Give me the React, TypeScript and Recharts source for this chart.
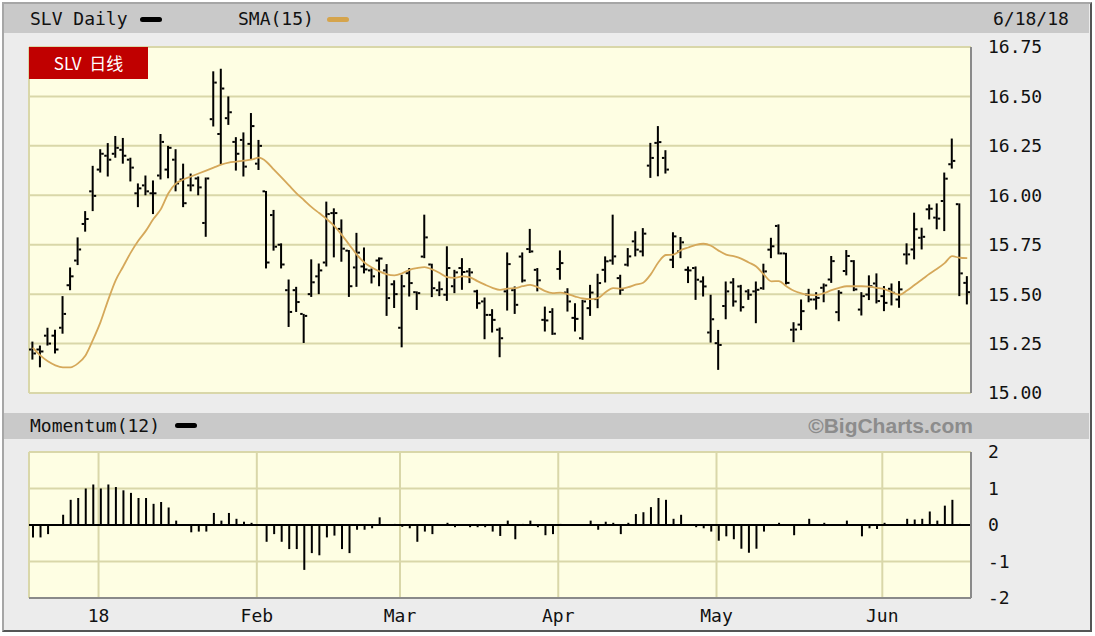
import { ComposedChart, Bar, Line, XAxis, YAxis, CartesianGrid, ReferenceLine } from "recharts";

// SLV daily, 12/18/17 .. 6/18/18 (125 sessions)
const opens = [15.22,15.22,15.29,15.29,15.33,15.545,15.67,15.855,16.02,16.13,16.2,16.21,16.23,16.18,16.01,16.05,16.01,16.1,16.13,16.18,16.08,16.05,16.085,15.86,16.385,16.31,16.39,16.27,16.28,16.26,16.16,16.02,15.9,15.75,15.52,15.52,15.4,15.5,15.59,15.66,15.91,15.83,15.72,15.635,15.64,15.62,15.67,15.62,15.55,15.33,15.606,15.51,15.69,15.65,15.52,15.497,15.54,15.632,15.615,15.514,15.463,15.395,15.32,15.514,15.52,15.69,15.728,15.623,15.37,15.41,15.627,15.508,15.38,15.277,15.429,15.475,15.623,15.67,15.581,15.649,15.767,15.716,16.15,16.265,16.189,15.674,15.716,15.623,15.632,15.564,15.306,15.252,15.44,15.559,15.539,15.514,15.514,15.53,15.725,15.845,15.706,15.32,15.346,15.498,15.473,15.532,15.574,15.409,15.617,15.667,15.422,15.498,15.554,15.49,15.527,15.473,15.701,15.726,15.785,15.929,15.887,15.971,16.157,15.955,15.557];
const highs = [15.26,15.24,15.33,15.32,15.49,15.635,15.787,15.92,16.149,16.233,16.264,16.3,16.29,16.19,16.06,16.1,16.075,16.31,16.25,16.233,16.16,16.11,16.095,16.09,16.627,16.64,16.5,16.294,16.318,16.416,16.28,16.022,15.926,15.757,15.574,15.537,15.4,15.676,15.655,15.968,15.934,15.878,15.723,15.81,15.736,15.63,15.686,15.652,15.57,15.598,15.632,15.514,15.902,15.654,15.564,15.742,15.623,15.682,15.632,15.522,15.483,15.424,15.331,15.711,15.539,15.711,15.83,15.632,15.437,15.429,15.721,15.53,15.454,15.471,15.547,15.603,15.691,15.902,15.598,15.733,15.818,15.834,16.265,16.35,16.228,15.813,15.789,15.64,15.64,15.59,15.497,15.319,15.564,15.581,15.547,15.525,15.564,15.654,15.785,15.853,15.709,15.358,15.473,15.527,15.51,15.554,15.693,15.52,15.723,15.672,15.51,15.595,15.605,15.541,15.554,15.566,15.757,15.912,15.836,15.954,15.959,16.115,16.287,15.959,15.591];
const lows = [15.169,15.13,15.24,15.2,15.3,15.52,15.647,15.816,15.92,16.115,16.095,16.19,16.16,16.07,15.94,16.0,15.905,16.08,16.086,16.02,15.94,16.02,16.0,15.79,16.348,16.154,16.356,16.125,16.095,16.18,16.128,15.63,15.72,15.63,15.334,15.41,15.253,15.486,15.5,15.64,15.686,15.664,15.486,15.537,15.605,15.554,15.54,15.39,15.43,15.231,15.488,15.42,15.682,15.485,15.49,15.466,15.505,15.522,15.556,15.426,15.272,15.306,15.181,15.417,15.4,15.559,15.708,15.514,15.311,15.294,15.573,15.412,15.311,15.269,15.39,15.429,15.559,15.649,15.497,15.64,15.691,15.691,16.088,16.096,16.11,15.632,15.682,15.556,15.471,15.488,15.255,15.117,15.373,15.437,15.412,15.471,15.353,15.522,15.682,15.701,15.549,15.257,15.318,15.459,15.422,15.459,15.557,15.363,15.595,15.515,15.392,15.47,15.453,15.414,15.443,15.431,15.65,15.676,15.726,15.878,15.828,15.819,16.135,15.49,15.448];
const closes = [15.2,15.21,15.25,15.22,15.4,15.59,15.726,15.88,15.997,16.21,16.18,16.24,16.2,16.14,16.035,16.02,16.01,16.27,16.24,16.06,15.96,16.05,16.04,16.085,16.57,16.54,16.42,16.21,16.145,16.35,16.25,15.66,15.74,15.65,15.41,15.46,15.39,15.56,15.62,15.905,15.91,15.73,15.54,15.71,15.625,15.59,15.68,15.48,15.5,15.54,15.556,15.505,15.787,15.53,15.525,15.632,15.61,15.612,15.61,15.454,15.395,15.37,15.277,15.652,15.446,15.569,15.716,15.57,15.367,15.3,15.657,15.463,15.375,15.463,15.508,15.556,15.666,15.691,15.522,15.691,15.725,15.806,16.189,16.269,16.13,15.792,15.762,15.62,15.573,15.539,15.373,15.243,15.514,15.463,15.434,15.497,15.522,15.615,15.742,15.706,15.557,15.321,15.414,15.473,15.481,15.544,15.667,15.507,15.693,15.524,15.49,15.54,15.465,15.456,15.507,15.524,15.701,15.828,15.79,15.932,15.882,16.084,16.174,15.605,15.51];
const sma15 = [15.23,15.19,15.16,15.14,15.13,15.13,15.15,15.19,15.27,15.36,15.47,15.57,15.64,15.71,15.77,15.82,15.88,15.93,16.01,16.06,16.08,16.095,16.11,16.125,16.14,16.155,16.165,16.17,16.175,16.18,16.19,16.17,16.13,16.09,16.05,16.01,15.975,15.94,15.91,15.88,15.845,15.8,15.75,15.7,15.66,15.635,15.615,15.6,15.595,15.605,15.623,15.632,15.637,15.625,15.607,15.586,15.582,15.59,15.585,15.566,15.548,15.532,15.522,15.528,15.53,15.54,15.547,15.535,15.515,15.505,15.508,15.5,15.488,15.478,15.475,15.48,15.51,15.53,15.528,15.535,15.548,15.558,15.6,15.66,15.698,15.7,15.722,15.736,15.749,15.755,15.745,15.72,15.7,15.692,15.68,15.66,15.64,15.6,15.565,15.566,15.54,15.517,15.504,15.496,15.495,15.505,15.52,15.532,15.54,15.54,15.54,15.538,15.532,15.525,15.51,15.497,15.518,15.546,15.574,15.603,15.628,15.657,15.692,15.684,15.682];
const momentum12 = [-0.34,-0.34,-0.25,0.02,0.28,0.69,0.74,1.0,1.11,1.0,1.11,1.04,0.95,0.88,0.74,0.74,0.58,0.63,0.48,0.12,-0.02,-0.2,-0.18,-0.18,0.33,0.12,0.33,0.17,0.09,0.06,0.01,-0.46,-0.25,-0.46,-0.66,-0.66,-1.23,-0.77,-0.83,-0.34,-0.29,-0.66,-0.77,-0.13,-0.13,-0.09,0.21,0.02,0.03,-0.05,-0.09,-0.46,-0.18,-0.25,-0.02,0.06,-0.06,0.02,-0.06,-0.06,-0.06,-0.18,-0.3,0.12,-0.39,0.03,0.12,-0.06,-0.28,-0.25,0.03,0.01,-0.02,0.02,0.12,-0.13,0.09,0.06,-0.25,0.06,0.3,0.35,0.49,0.74,0.69,0.17,0.28,0.02,-0.06,-0.09,-0.18,-0.43,-0.31,-0.39,-0.65,-0.76,-0.65,-0.18,0.02,0.06,-0.01,-0.28,0.02,0.17,-0.01,0.06,0.01,-0.01,0.12,0.01,-0.31,-0.09,-0.11,0.06,0.01,0.02,0.17,0.15,0.17,0.37,0.12,0.53,0.69,0.03,0.02];

// first session of each month (bar index) and its label
const monthStarts = [9, 30, 49, 70, 91, 113];
const monthLabels = ["18", "Feb", "Mar", "Apr", "May", "Jun"];
const priceTicks = [15, 15.25, 15.5, 15.75, 16, 16.25, 16.5, 16.75];
const momTicks = [-2, -1, 0, 1, 2];

const rows = opens.map((o, i) => ({
  i, open: o, high: highs[i], low: lows[i], close: closes[i],
  hl: [lows[i], highs[i]], sma: sma15[i], mom: momentum12[i],
}));

const gridX = monthStarts.map((m) => m - 0.27);
const mono = "'DejaVu Sans Mono', monospace";
const tickStyle = { fill: "#111", fontFamily: mono, fontSize: 18 };
const GRID = "#d9d7a9";
const PLOT = "#fefee3";

function OhlcBar(props: any) {
  const { x, y, width, height, payload } = props;
  if (x == null || y == null || !payload) return null;
  const top = Math.min(y, y + height);
  const h = Math.abs(height);
  const span = payload.high - payload.low || 1;
  const yo = top + ((payload.high - payload.open) / span) * h;
  const yc = top + ((payload.high - payload.close) / span) * h;
  const cx = x + width / 2;
  return (
    <g fill="#000">
      <rect x={cx - 1} y={top} width={2} height={Math.max(h, 2)} />
      <rect x={cx - 3.5} y={yo - 1} width={2.5} height={2} />
      <rect x={cx + 1} y={yc - 1} width={2.5} height={2} />
    </g>
  );
}

const swatch = (left: number, top: number, color: string) => (
  <div style={{ position: "absolute", left, top, width: 22, height: 5, borderRadius: 3, background: color }} />
);

const label = (left: number, top: number, text: string, extra: any = {}) => (
  <div style={{ position: "absolute", left, top, fontFamily: mono, fontSize: 18, lineHeight: "20px", color: "#111", whiteSpace: "nowrap", ...extra }}>{text}</div>
);

export default function App() {
  return (
    <div style={{ position: "absolute", left: 0, top: 0, width: 1095, height: 636, background: "#fff", overflow: "hidden" }}>
      <div style={{ position: "absolute", left: 2, top: 2, width: 1090, height: 630, boxSizing: "border-box", background: "#ececec",
        borderTop: "2px solid #a6a6a6", borderLeft: "2px solid #a6a6a6", borderRight: "2px solid #555", borderBottom: "2px solid #555" }} />
      <div style={{ position: "absolute", left: 4, top: 4, width: 1085, height: 29, background: "#c9c9c9" }} />
      <div style={{ position: "absolute", left: 4, top: 413, width: 1085, height: 26, background: "#c9c9c9" }} />

      <div style={{ position: "absolute", left: 0, top: 0 }}>
        <ComposedChart width={1095} height={410} data={rows} margin={{ top: 47, right: 44, bottom: 17, left: 29 }}>
          <CartesianGrid stroke={GRID} strokeWidth={2} fill={PLOT} />
          <XAxis type="number" dataKey="i" domain={[-0.5, 124.5]} ticks={gridX} height={0} tick={false} tickLine={false}
            axisLine={{ stroke: "#8a8a8a", strokeWidth: 2 }} allowDataOverflow />
          <YAxis orientation="right" domain={[15, 16.75]} ticks={priceTicks} width={80} interval={0} tickSize={0} tickMargin={17}
            tick={tickStyle} tickFormatter={(v: number) => v.toFixed(2)} axisLine={{ stroke: "#8a8a8a", strokeWidth: 2 }} allowDataOverflow />
          <Bar dataKey="hl" barSize={8} shape={OhlcBar} isAnimationActive={false} />
          <Line dataKey="sma" type="monotone" stroke="#d5a85a" strokeWidth={1.8} dot={false} isAnimationActive={false} />
        </ComposedChart>
      </div>

      <div style={{ position: "absolute", left: 0, top: 440 }}>
        <ComposedChart width={1095} height={196} data={rows} margin={{ top: 12, right: 44, bottom: 8, left: 29 }}>
          <CartesianGrid stroke={GRID} strokeWidth={2} fill={PLOT} />
          <XAxis type="number" dataKey="i" domain={[-0.5, 124.5]} ticks={gridX} height={30} interval={0} tickSize={0} tickMargin={11}
            tick={tickStyle} tickFormatter={(v: number) => monthLabels[gridX.indexOf(v)] ?? ""}
            axisLine={{ stroke: "#8a8a8a", strokeWidth: 2 }} allowDataOverflow />
          <YAxis orientation="right" domain={[-2, 2]} ticks={momTicks} width={80} interval={0} tickSize={0} tickMargin={17}
            tick={tickStyle} axisLine={{ stroke: "#8a8a8a", strokeWidth: 2 }} allowDataOverflow />
          <ReferenceLine y={0} stroke="#000" strokeWidth={2} />
          <Bar dataKey="mom" barSize={2} fill="#000" isAnimationActive={false} />
        </ComposedChart>
      </div>

      {label(30, 9, "SLV Daily")}
      {swatch(140, 17, "#000")}
      {label(238, 9, "SMA(15)")}
      {swatch(327, 17, "#d5a44c")}
      {label(993, 9, "6/18/18")}
      {label(30, 416, "Momentum(12)")}
      {swatch(175, 423, "#000")}
      <div style={{ position: "absolute", right: 1095 - 973, top: 414, fontFamily: "'Liberation Sans', Arial, sans-serif", fontWeight: 700,
        fontSize: 21, lineHeight: "24px", color: "#8c8c8c" }}>©BigCharts.com</div>

      <div style={{ position: "absolute", left: 29, top: 47, width: 119, height: 32, background: "#c00000", color: "#fff",
        fontFamily: "'Noto Sans CJK SC', 'Noto Sans', sans-serif", fontSize: 17, lineHeight: "32px", textAlign: "center" }}>SLV&nbsp;&nbsp;日线</div>
    </div>
  );
}
